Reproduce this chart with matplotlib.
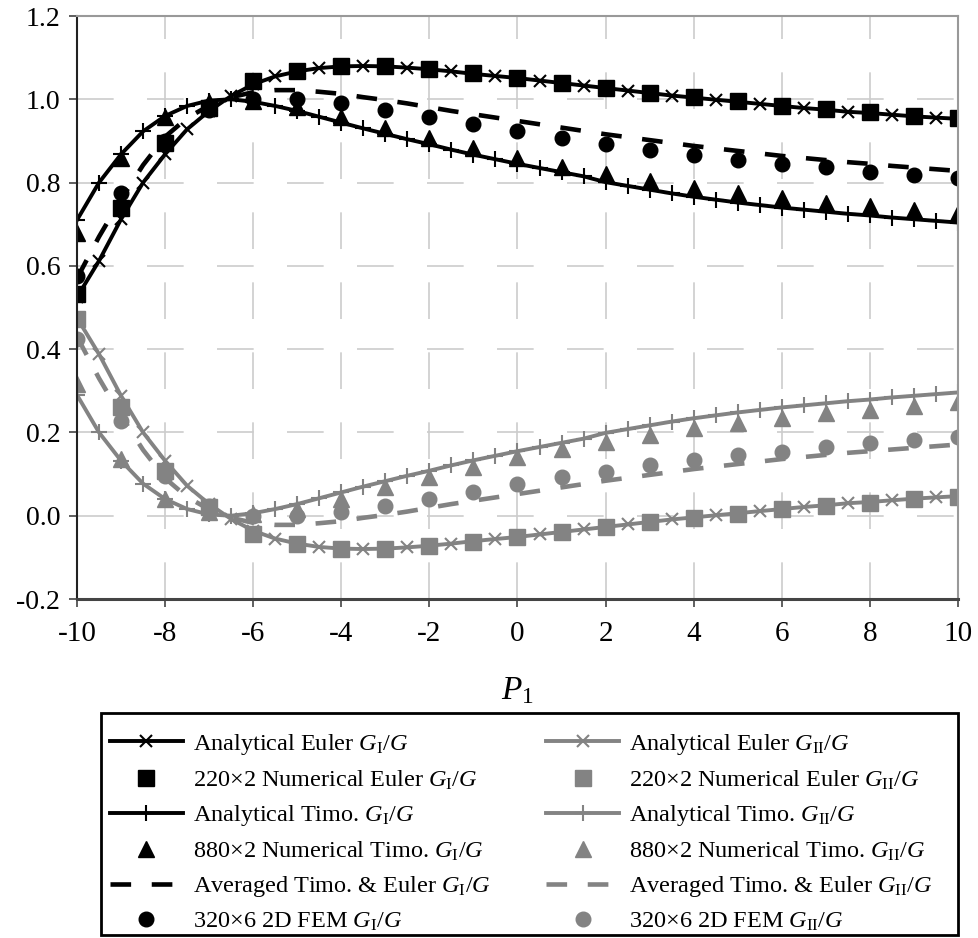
import matplotlib
matplotlib.use("Agg")
import matplotlib.pyplot as plt
from matplotlib.patches import Rectangle

plt.rcParams['font.family'] = 'Liberation Serif'
plt.rcParams['mathtext.fontset'] = 'custom'
plt.rcParams['mathtext.rm'] = 'Liberation Serif'
plt.rcParams['mathtext.it'] = 'Liberation Serif:italic'

# ── data ──────────────────────────────────────────────────────────────────
P1 = [-10, -9.5, -9, -8.5, -8, -7.5, -7, -6.5, -6, -5.5, -5, -4.5, -4, -3.5, -3,
      -2.5, -2, -1.5, -1, -0.5, 0, 0.5, 1, 1.5, 2, 2.5, 3, 3.5, 4, 4.5, 5,
      5.5, 6, 6.5, 7, 7.5, 8, 8.5, 9, 9.5, 10]
P1_int = [-10, -9, -8, -7, -6, -5, -4, -3, -2, -1, 0, 1, 2, 3, 4, 5, 6, 7, 8, 9, 10]

euler_GI = [0.525, 0.612, 0.712, 0.800, 0.868, 0.928, 0.972, 1.008, 1.036, 1.055,
            1.067, 1.075, 1.079, 1.080, 1.079, 1.076, 1.072, 1.067, 1.061, 1.056,
            1.051, 1.045, 1.039, 1.033, 1.027, 1.021, 1.015, 1.009, 1.004, 0.999,
            0.994, 0.989, 0.984, 0.979, 0.975, 0.970, 0.967, 0.963, 0.959, 0.956, 0.953]
euler_GII = [0.475, 0.388, 0.288, 0.200, 0.132, 0.072, 0.028, -0.008, -0.036, -0.055,
             -0.067, -0.075, -0.079, -0.080, -0.079, -0.076, -0.072, -0.067, -0.061, -0.056,
             -0.051, -0.045, -0.039, -0.033, -0.027, -0.021, -0.015, -0.009, -0.004, 0.001,
             0.006, 0.011, 0.016, 0.021, 0.025, 0.030, 0.033, 0.037, 0.041, 0.044, 0.047]

timo_GI = [0.710, 0.800, 0.868, 0.923, 0.960, 0.984, 0.997, 1.000, 0.994, 0.984,
           0.972, 0.958, 0.944, 0.930, 0.917, 0.904, 0.892, 0.879, 0.867, 0.856,
           0.845, 0.835, 0.825, 0.815, 0.801, 0.792, 0.783, 0.774, 0.766, 0.759,
           0.752, 0.746, 0.740, 0.735, 0.730, 0.725, 0.721, 0.716, 0.712, 0.708, 0.704]
timo_GII = [0.290, 0.200, 0.132, 0.077, 0.040, 0.016, 0.003, 0.000, 0.006, 0.016,
            0.028, 0.042, 0.056, 0.070, 0.083, 0.096, 0.108, 0.121, 0.133, 0.144,
            0.155, 0.165, 0.175, 0.185, 0.199, 0.208, 0.217, 0.226, 0.234, 0.241,
            0.248, 0.254, 0.260, 0.265, 0.270, 0.275, 0.279, 0.284, 0.288, 0.292, 0.296]

avg_GI = [0.570, 0.670, 0.760, 0.842, 0.910, 0.955, 0.985, 1.005, 1.017, 1.022,
          1.022, 1.018, 1.013, 1.005, 0.998, 0.990, 0.981, 0.972, 0.964, 0.956,
          0.948, 0.940, 0.932, 0.924, 0.916, 0.909, 0.902, 0.895, 0.888, 0.882,
          0.876, 0.870, 0.864, 0.859, 0.854, 0.849, 0.845, 0.840, 0.836, 0.832, 0.828]
avg_GII = [0.430, 0.330, 0.240, 0.158, 0.090, 0.045, 0.015, -0.005, -0.017, -0.022,
           -0.022, -0.018, -0.013, -0.005, 0.002, 0.010, 0.019, 0.028, 0.036, 0.044,
           0.052, 0.060, 0.068, 0.076, 0.084, 0.091, 0.098, 0.105, 0.112, 0.118,
           0.124, 0.130, 0.136, 0.141, 0.146, 0.151, 0.155, 0.159, 0.163, 0.167, 0.171]

num_euler_GI = [0.533, 0.740, 0.895, 0.978, 1.045, 1.068, 1.079, 1.079, 1.072, 1.062,
                1.052, 1.040, 1.028, 1.016, 1.005, 0.995, 0.985, 0.977, 0.969, 0.961, 0.954]
num_euler_GII = [0.473, 0.260, 0.108, 0.020, -0.045, -0.068, -0.079, -0.079, -0.072, -0.062,
                 -0.052, -0.040, -0.028, -0.016, -0.005, 0.005, 0.015, 0.023, 0.031, 0.039, 0.046]

num_timo_GI = [0.680, 0.860, 0.957, 0.993, 0.995, 0.982, 0.958, 0.932, 0.906, 0.882,
               0.858, 0.838, 0.820, 0.804, 0.788, 0.775, 0.763, 0.752, 0.743, 0.734, 0.726]
num_timo_GII = [0.316, 0.136, 0.040, 0.008, 0.004, 0.016, 0.040, 0.068, 0.093, 0.117,
                0.140, 0.160, 0.178, 0.195, 0.210, 0.223, 0.235, 0.246, 0.255, 0.264, 0.272]

fem_GI = [0.575, 0.775, 0.900, 0.975, 1.000, 1.000, 0.990, 0.975, 0.958, 0.940,
          0.923, 0.908, 0.893, 0.878, 0.866, 0.855, 0.845, 0.837, 0.826, 0.819, 0.810]
fem_GII = [0.425, 0.228, 0.096, 0.024, 0.000, 0.000, 0.008, 0.024, 0.040, 0.058,
           0.076, 0.092, 0.106, 0.122, 0.134, 0.146, 0.154, 0.164, 0.174, 0.182, 0.188]

x_ticks = [-10, -8, -6, -4, -2, 0, 2, 4, 6, 8, 10]
y_ticks = [-0.2, 0.0, 0.2, 0.4, 0.6, 0.8, 1.0, 1.2]
# ─────────────────────────────────────────────────────────────────────────

BLACK = 'black'
GREY = '#838383'
GI = r'$G_{\mathrm{I}}/G$'
GII = r'$G_{\mathrm{II}}/G$'

fig = plt.figure(figsize=(9.79, 9.38), dpi=100)
ax = fig.add_axes([77 / 979, 1 - 599 / 938, 881 / 979, 583 / 938])

handles = {}
for tag, col, lbl, eul, num_e, tim, num_t, avg, fem in [
        ('I', BLACK, GI, euler_GI, num_euler_GI, timo_GI, num_timo_GI, avg_GI, fem_GI),
        ('II', GREY, GII, euler_GII, num_euler_GII, timo_GII, num_timo_GII, avg_GII, fem_GII)]:
    h = []
    h += ax.plot(P1, eul, color=col, lw=2.8, marker='x', ms=9, mew=1.5,
                 label='Analytical Euler ' + lbl)
    h += ax.plot(P1_int, num_e, ls='none', color=col, marker='s', ms=11,
                 label='220×2 Numerical Euler ' + lbl)
    h += ax.plot(P1, tim, color=col, lw=2.8, marker='+', ms=12, mew=1.5,
                 label='Analytical Timo. ' + lbl)
    h += ax.plot(P1_int, num_t, ls='none', color=col, marker='^', ms=11,
                 label='880×2 Numerical Timo. ' + lbl)
    h += ax.plot(P1, avg, color=col, lw=3.3, ls=(0, (4.5, 4.5)),
                 label='Averaged Timo. & Euler ' + lbl)
    h += ax.plot(P1_int, fem, ls='none', color=col, marker='o', ms=10.5,
                 label='320×6 2D FEM ' + lbl)
    handles[tag] = h

ax.set_xlim(-10, 10)
ax.set_ylim(-0.2, 1.2)
ax.set_xticks(x_ticks)
ax.set_yticks(y_ticks)
ax.set_xticklabels([str(v) for v in x_ticks], fontsize=21)
ax.set_yticklabels(['%.1f' % v for v in y_ticks], fontsize=20)
ax.tick_params(direction='out', length=6, width=1.2, color='#444444')
ax.tick_params(axis='x', pad=10)
ax.tick_params(axis='y', pad=6)
ax.grid(True, color='#cccccc', lw=1.2, ls=(0, (22, 20)))
ax.set_axisbelow(True)

ax.spines['left'].set_color('#222222')
ax.spines['left'].set_linewidth(1.5)
ax.spines['bottom'].set_color('#444444')
ax.spines['bottom'].set_linewidth(2.2)
ax.spines['top'].set_color('#999999')
ax.spines['right'].set_color('#999999')
ax.spines['top'].set_linewidth(1.5)
ax.spines['right'].set_linewidth(1.5)

ax.set_xlabel(r'$P_{\mathrm{1}}$', fontsize=24, labelpad=20)

hs = handles['I'] + handles['II']
fig.legend(hs, [h.get_label() for h in hs], ncol=2, loc='upper left',
           bbox_to_anchor=(110 / 979, 1 - 732 / 938), frameon=False,
           fontsize=17.5, handlelength=3.0, handletextpad=0.4, columnspacing=2.3,
           labelspacing=0.47, borderpad=0, borderaxespad=0)
fig.patches.append(Rectangle((101 / 979, 1 - 935 / 938), 857 / 979, 222 / 938,
                             transform=fig.transFigure, fill=False,
                             edgecolor='black', lw=2))

fig.savefig('out.png', dpi=100)
